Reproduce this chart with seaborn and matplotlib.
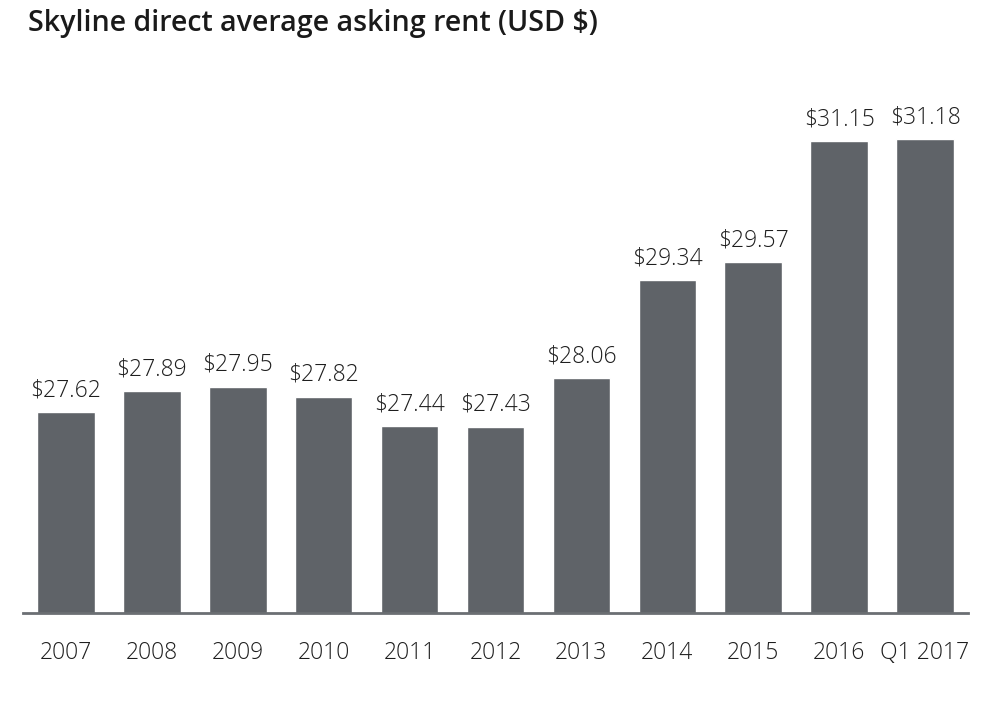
import matplotlib
matplotlib.use("Agg")
import matplotlib.pyplot as plt
import seaborn as sns
import pandas as pd

periods = ["2007", "2008", "2009", "2010", "2011", "2012", "2013",
           "2014", "2015", "2016", "Q1 2017"]
rents = [27.62, 27.89, 27.95, 27.82, 27.44, 27.43, 28.06,
         29.34, 29.57, 31.15, 31.18]

df = pd.DataFrame({"period": periods, "rent": rents})

sns.set_style("white")
plt.rcParams["font.family"] = ["Open Sans", "DejaVu Sans"]

bar_color = "#5f6368"

fig = plt.figure(figsize=(10, 7.04), dpi=100)
ax = fig.add_axes([0.023, 0.1293, 0.945, 0.7855])

sns.barplot(data=df, x="period", y="rent", color=bar_color,
            width=0.67, saturation=1, ax=ax)

ax.set_ylim(25, 32.21)
ax.set_xlim(-0.5, 10.5)

for i, v in enumerate(rents):
    ax.annotate(f"${v:.2f}", (i, v), xytext=(0, 7), textcoords="offset points",
                ha="center", va="bottom", fontsize=16.5, fontweight="light",
                color="#1e1e1e")

for s in ["top", "right", "left"]:
    ax.spines[s].set_visible(False)
ax.spines["bottom"].set_color("#6b6f73")
ax.spines["bottom"].set_linewidth(2)

ax.set_yticks([])
ax.tick_params(axis="x", length=0, pad=20, labelsize=16.5, labelcolor="#1e1e1e")
for lab in ax.get_xticklabels():
    lab.set_fontweight("light")
ax.set_xlabel("")
ax.set_ylabel("")

fig.text(0.028, 0.966, "Skyline direct average asking rent (USD $)",
         fontsize=20.6, fontweight="semibold", color="#1a1a1a",
         ha="left", va="center")

fig.savefig("out.png", dpi=100)
